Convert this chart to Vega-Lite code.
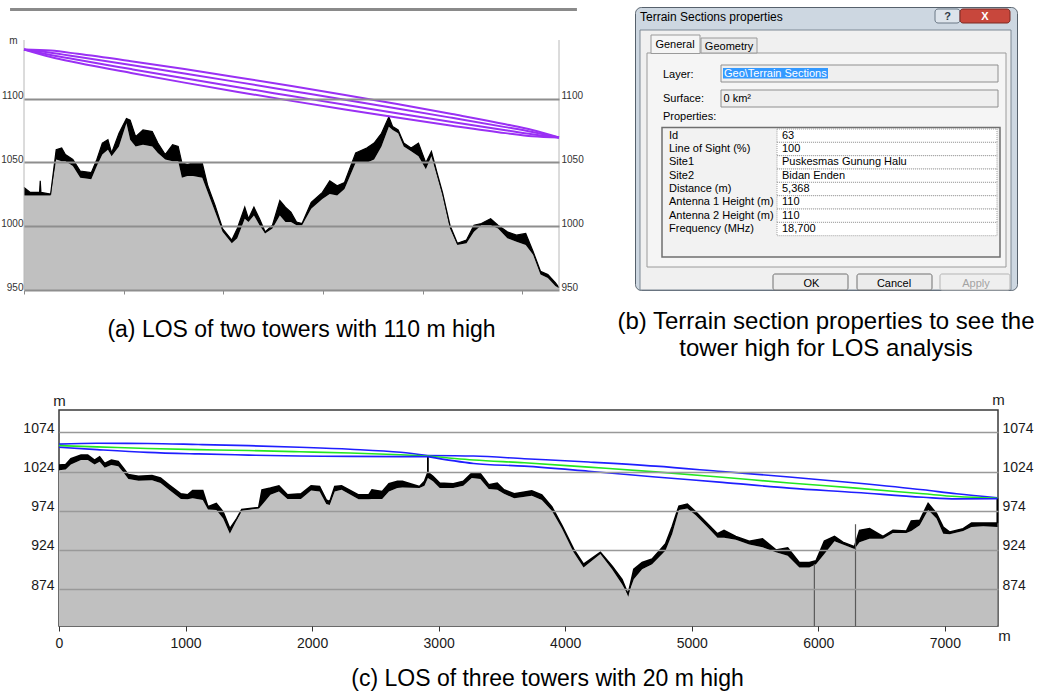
{
  "$schema": "https://vega.github.io/schema/vega-lite/v6.json",
  "background": "white",
  "padding": {"left": 0, "top": 6, "right": 0, "bottom": 0},
  "bounds": "flush",
  "spacing": 403,
  "config": {
    "view": {"stroke": null},
    "font": "Liberation Sans",
    "title": {"font": "Liberation Sans", "fontWeight": "normal", "color": "#000000", "fontSize": 23}
  },
  "datasets": {
    "terrainA": [
      {"d": 0, "top": 1030.4, "ground": 1024.0}, {"d": 63, "top": 1026.5, "ground": 1024.0},
      {"d": 137, "top": 1026.5, "ground": 1024.0}, {"d": 156, "top": 1026.5, "ground": 1024.0},
      {"d": 163, "top": 1035.6, "ground": 1024.0}, {"d": 170, "top": 1026.5, "ground": 1024.0},
      {"d": 267, "top": 1025.2, "ground": 1024.0}, {"d": 323, "top": 1060.0, "ground": 1052.3},
      {"d": 378, "top": 1061.3, "ground": 1051.0}, {"d": 415, "top": 1056.2, "ground": 1051.0},
      {"d": 490, "top": 1052.3, "ground": 1047.2}, {"d": 564, "top": 1043.3, "ground": 1038.1},
      {"d": 675, "top": 1042.0, "ground": 1036.8}, {"d": 731, "top": 1052.3, "ground": 1047.2},
      {"d": 786, "top": 1065.2, "ground": 1056.2}, {"d": 842, "top": 1067.8, "ground": 1060.0},
      {"d": 879, "top": 1057.5, "ground": 1054.9}, {"d": 953, "top": 1072.9, "ground": 1062.6},
      {"d": 1028, "top": 1084.5, "ground": 1080.7}, {"d": 1065, "top": 1083.2, "ground": 1067.8},
      {"d": 1120, "top": 1070.3, "ground": 1062.6}, {"d": 1194, "top": 1075.5, "ground": 1063.9},
      {"d": 1287, "top": 1074.2, "ground": 1062.6}, {"d": 1343, "top": 1065.2, "ground": 1057.5},
      {"d": 1417, "top": 1056.2, "ground": 1052.3}, {"d": 1491, "top": 1063.9, "ground": 1051.0},
      {"d": 1547, "top": 1062.6, "ground": 1051.0}, {"d": 1584, "top": 1049.7, "ground": 1038.1},
      {"d": 1640, "top": 1048.4, "ground": 1039.4}, {"d": 1695, "top": 1049.7, "ground": 1039.4},
      {"d": 1788, "top": 1049.7, "ground": 1038.1}, {"d": 1844, "top": 1031.7, "ground": 1026.5},
      {"d": 1918, "top": 1016.2, "ground": 1011.1}, {"d": 1992, "top": 998.2, "ground": 995.6},
      {"d": 2085, "top": 989.2, "ground": 986.6}, {"d": 2140, "top": 998.2, "ground": 990.5},
      {"d": 2215, "top": 1014.9, "ground": 1005.9}, {"d": 2252, "top": 1005.9, "ground": 1003.3},
      {"d": 2307, "top": 1014.9, "ground": 1008.5}, {"d": 2363, "top": 1005.9, "ground": 1000.8},
      {"d": 2419, "top": 995.6, "ground": 994.3}, {"d": 2493, "top": 1000.8, "ground": 998.2},
      {"d": 2567, "top": 1020.1, "ground": 1008.5}, {"d": 2623, "top": 1014.9, "ground": 1003.3},
      {"d": 2678, "top": 1011.1, "ground": 1003.3}, {"d": 2734, "top": 1003.3, "ground": 1000.8},
      {"d": 2790, "top": 1002.1, "ground": 1000.8}, {"d": 2882, "top": 1018.8, "ground": 1013.7},
      {"d": 2994, "top": 1026.5, "ground": 1021.4}, {"d": 3068, "top": 1035.6, "ground": 1025.2},
      {"d": 3142, "top": 1031.7, "ground": 1024.0}, {"d": 3216, "top": 1034.3, "ground": 1029.1},
      {"d": 3328, "top": 1057.5, "ground": 1049.7}, {"d": 3439, "top": 1061.3, "ground": 1049.7},
      {"d": 3513, "top": 1065.2, "ground": 1052.3}, {"d": 3587, "top": 1072.9, "ground": 1062.6},
      {"d": 3661, "top": 1085.8, "ground": 1078.1}, {"d": 3699, "top": 1078.1, "ground": 1075.5},
      {"d": 3754, "top": 1075.5, "ground": 1072.9}, {"d": 3810, "top": 1065.2, "ground": 1062.6},
      {"d": 3884, "top": 1061.3, "ground": 1058.7}, {"d": 3958, "top": 1065.2, "ground": 1054.9},
      {"d": 4032, "top": 1049.7, "ground": 1044.6}, {"d": 4088, "top": 1058.7, "ground": 1054.9},
      {"d": 4144, "top": 1042.0, "ground": 1039.4}, {"d": 4199, "top": 1026.5, "ground": 1024.0},
      {"d": 4274, "top": 1000.8, "ground": 998.2}, {"d": 4348, "top": 986.6, "ground": 985.3},
      {"d": 4440, "top": 989.2, "ground": 986.6}, {"d": 4515, "top": 1000.8, "ground": 995.6},
      {"d": 4589, "top": 1002.1, "ground": 1000.8}, {"d": 4682, "top": 1005.9, "ground": 1000.8},
      {"d": 4756, "top": 1000.8, "ground": 998.2}, {"d": 4849, "top": 995.6, "ground": 990.5},
      {"d": 4941, "top": 993.0, "ground": 987.9}, {"d": 5034, "top": 994.3, "ground": 985.3},
      {"d": 5108, "top": 980.2, "ground": 977.6}, {"d": 5182, "top": 964.7, "ground": 962.1},
      {"d": 5256, "top": 962.1, "ground": 959.5}, {"d": 5331, "top": 955.7, "ground": 953.1},
      {"d": 5368, "top": 951.8, "ground": 951.3}
    ],
    "losA": [
      {"path": "upper", "d": 0, "h": 1138.6}, {"path": "upper", "d": 268, "h": 1137.7}, {"path": "upper", "d": 537, "h": 1135.2},
      {"path": "upper", "d": 1074, "h": 1129.4}, {"path": "upper", "d": 1610, "h": 1123.2}, {"path": "upper", "d": 2147, "h": 1116.7},
      {"path": "upper", "d": 2684, "h": 1109.9}, {"path": "upper", "d": 3221, "h": 1102.9}, {"path": "upper", "d": 3758, "h": 1095.6},
      {"path": "upper", "d": 4294, "h": 1088.0}, {"path": "upper", "d": 4831, "h": 1080.0}, {"path": "upper", "d": 5100, "h": 1075.5},
      {"path": "upper", "d": 5368, "h": 1069.6},
      {"path": "inner upper", "d": 0, "h": 1138.6}, {"path": "inner upper", "d": 268, "h": 1136.1}, {"path": "inner upper", "d": 537, "h": 1132.9},
      {"path": "inner upper", "d": 1074, "h": 1126.4}, {"path": "inner upper", "d": 1610, "h": 1119.8}, {"path": "inner upper", "d": 2147, "h": 1113.0},
      {"path": "inner upper", "d": 2684, "h": 1106.1}, {"path": "inner upper", "d": 3221, "h": 1099.2}, {"path": "inner upper", "d": 3758, "h": 1092.2},
      {"path": "inner upper", "d": 4294, "h": 1085.0}, {"path": "inner upper", "d": 4831, "h": 1077.7}, {"path": "inner upper", "d": 5100, "h": 1073.9},
      {"path": "inner upper", "d": 5368, "h": 1069.6},
      {"path": "inner lower", "d": 0, "h": 1138.6}, {"path": "inner lower", "d": 268, "h": 1134.3}, {"path": "inner lower", "d": 537, "h": 1130.5},
      {"path": "inner lower", "d": 1074, "h": 1123.2}, {"path": "inner lower", "d": 1610, "h": 1116.0}, {"path": "inner lower", "d": 2147, "h": 1109.0},
      {"path": "inner lower", "d": 2684, "h": 1102.1}, {"path": "inner lower", "d": 3221, "h": 1095.2}, {"path": "inner lower", "d": 3758, "h": 1088.4},
      {"path": "inner lower", "d": 4294, "h": 1081.8}, {"path": "inner lower", "d": 4831, "h": 1075.3}, {"path": "inner lower", "d": 5100, "h": 1072.1},
      {"path": "inner lower", "d": 5368, "h": 1069.6},
      {"path": "lower", "d": 0, "h": 1138.6}, {"path": "lower", "d": 268, "h": 1132.7}, {"path": "lower", "d": 537, "h": 1128.2},
      {"path": "lower", "d": 1074, "h": 1120.2}, {"path": "lower", "d": 1610, "h": 1112.6}, {"path": "lower", "d": 2147, "h": 1105.3},
      {"path": "lower", "d": 2684, "h": 1098.3}, {"path": "lower", "d": 3221, "h": 1091.5}, {"path": "lower", "d": 3758, "h": 1085.0},
      {"path": "lower", "d": 4294, "h": 1078.8}, {"path": "lower", "d": 4831, "h": 1073.0}, {"path": "lower", "d": 5100, "h": 1070.5},
      {"path": "lower", "d": 5368, "h": 1069.6}
    ],
    "endsA": [{"d": 0}, {"d": 5368}],
    "props": [
      {"property": "Id", "value": "63"},
      {"property": "Line of Sight (%)", "value": "100"},
      {"property": "Site1", "value": "Puskesmas Gunung Halu"},
      {"property": "Site2", "value": "Bidan Enden"},
      {"property": "Distance (m)", "value": "5,368"},
      {"property": "Antenna 1 Height (m)", "value": "110"},
      {"property": "Antenna 2 Height (m)", "value": "110"},
      {"property": "Frequency (MHz)", "value": "18,700"}
    ],
    "terrainC": [
      {"d": 0, "top": 1032.2, "ground": 1025.7}, {"d": 53, "top": 1033.1, "ground": 1026.6},
      {"d": 94, "top": 1040.4, "ground": 1033.1}, {"d": 174, "top": 1045.1, "ground": 1038.7},
      {"d": 227, "top": 1045.1, "ground": 1038.7}, {"d": 281, "top": 1038.7, "ground": 1033.1},
      {"d": 321, "top": 1043.0, "ground": 1036.5}, {"d": 361, "top": 1034.3, "ground": 1028.7},
      {"d": 414, "top": 1038.7, "ground": 1032.2}, {"d": 468, "top": 1036.9, "ground": 1030.9},
      {"d": 508, "top": 1028.7, "ground": 1023.1}, {"d": 548, "top": 1020.1, "ground": 1014.5},
      {"d": 628, "top": 1018.0, "ground": 1012.4}, {"d": 735, "top": 1018.8, "ground": 1012.8},
      {"d": 802, "top": 1015.8, "ground": 1009.4}, {"d": 869, "top": 1007.2, "ground": 1000.7},
      {"d": 963, "top": 995.6, "ground": 989.1}, {"d": 1016, "top": 994.3, "ground": 988.7},
      {"d": 1056, "top": 999.9, "ground": 989.9}, {"d": 1136, "top": 999.9, "ground": 987.8},
      {"d": 1177, "top": 979.2, "ground": 975.7}, {"d": 1243, "top": 983.5, "ground": 974.9},
      {"d": 1297, "top": 972.7, "ground": 964.1}, {"d": 1350, "top": 951.2, "ground": 944.7},
      {"d": 1404, "top": 964.0, "ground": 962.0}, {"d": 1444, "top": 975.7, "ground": 974.0},
      {"d": 1578, "top": 978.3, "ground": 977.0}, {"d": 1604, "top": 1000.7, "ground": 981.3},
      {"d": 1671, "top": 1002.9, "ground": 994.3}, {"d": 1738, "top": 1005.9, "ground": 998.6},
      {"d": 1805, "top": 994.3, "ground": 989.1}, {"d": 1912, "top": 995.6, "ground": 989.1},
      {"d": 1992, "top": 1005.9, "ground": 999.9}, {"d": 2059, "top": 1005.0, "ground": 998.6},
      {"d": 2112, "top": 987.8, "ground": 982.6}, {"d": 2139, "top": 985.6, "ground": 981.3},
      {"d": 2179, "top": 1005.0, "ground": 998.6}, {"d": 2233, "top": 1005.9, "ground": 1000.7},
      {"d": 2367, "top": 994.3, "ground": 988.7}, {"d": 2447, "top": 994.3, "ground": 988.7},
      {"d": 2473, "top": 1000.7, "ground": 989.1}, {"d": 2554, "top": 998.6, "ground": 989.1},
      {"d": 2607, "top": 1008.5, "ground": 998.6}, {"d": 2674, "top": 1011.5, "ground": 1002.9},
      {"d": 2714, "top": 1011.5, "ground": 1003.8}, {"d": 2848, "top": 1005.0, "ground": 1002.9},
      {"d": 2888, "top": 1011.5, "ground": 1005.9}, {"d": 2915, "top": 1023.1, "ground": 1015.8},
      {"d": 2955, "top": 1018.0, "ground": 1011.5}, {"d": 3008, "top": 1009.4, "ground": 1002.9},
      {"d": 3115, "top": 1008.5, "ground": 1002.9}, {"d": 3195, "top": 1011.5, "ground": 1005.9},
      {"d": 3262, "top": 1022.2, "ground": 1015.8}, {"d": 3329, "top": 1021.4, "ground": 1014.5},
      {"d": 3396, "top": 1007.2, "ground": 1001.6}, {"d": 3463, "top": 1009.4, "ground": 1000.7},
      {"d": 3516, "top": 1000.7, "ground": 995.6}, {"d": 3597, "top": 995.6, "ground": 989.9},
      {"d": 3656, "top": 997.3, "ground": 991.2}, {"d": 3736, "top": 999.4, "ground": 993.0},
      {"d": 3815, "top": 994.3, "ground": 987.8}, {"d": 3894, "top": 979.2, "ground": 974.0},
      {"d": 3974, "top": 955.5, "ground": 951.2}, {"d": 4066, "top": 925.3, "ground": 921.0},
      {"d": 4145, "top": 905.9, "ground": 901.6}, {"d": 4278, "top": 921.0, "ground": 918.8},
      {"d": 4370, "top": 903.7, "ground": 899.4}, {"d": 4449, "top": 886.5, "ground": 880.1},
      {"d": 4497, "top": 867.5, "ground": 866.5}, {"d": 4542, "top": 899.4, "ground": 886.5},
      {"d": 4608, "top": 908.1, "ground": 899.4}, {"d": 4687, "top": 912.4, "ground": 905.9},
      {"d": 4793, "top": 931.8, "ground": 923.2}, {"d": 4846, "top": 954.2, "ground": 944.7},
      {"d": 4899, "top": 980.0, "ground": 974.9}, {"d": 4965, "top": 982.6, "ground": 977.0},
      {"d": 5031, "top": 972.7, "ground": 968.4}, {"d": 5123, "top": 957.6, "ground": 953.3},
      {"d": 5203, "top": 944.7, "ground": 939.5}, {"d": 5255, "top": 949.0, "ground": 939.5},
      {"d": 5348, "top": 941.2, "ground": 936.9}, {"d": 5454, "top": 935.2, "ground": 930.9},
      {"d": 5559, "top": 938.2, "ground": 927.5}, {"d": 5665, "top": 924.0, "ground": 921.0},
      {"d": 5758, "top": 926.6, "ground": 916.7}, {"d": 5850, "top": 908.1, "ground": 901.6},
      {"d": 5929, "top": 908.1, "ground": 901.6}, {"d": 5982, "top": 910.2, "ground": 905.9},
      {"d": 6048, "top": 935.2, "ground": 918.8}, {"d": 6128, "top": 941.2, "ground": 935.2},
      {"d": 6194, "top": 933.9, "ground": 930.9}, {"d": 6286, "top": 928.3, "ground": 925.3},
      {"d": 6326, "top": 949.0, "ground": 933.9}, {"d": 6405, "top": 951.2, "ground": 938.2},
      {"d": 6511, "top": 941.2, "ground": 938.2}, {"d": 6590, "top": 949.0, "ground": 945.6},
      {"d": 6696, "top": 948.2, "ground": 945.6}, {"d": 6735, "top": 961.1, "ground": 948.2},
      {"d": 6802, "top": 961.9, "ground": 955.5}, {"d": 6868, "top": 983.5, "ground": 974.9},
      {"d": 6934, "top": 970.5, "ground": 964.1}, {"d": 6987, "top": 953.3, "ground": 944.7},
      {"d": 7039, "top": 946.9, "ground": 943.9}, {"d": 7145, "top": 951.2, "ground": 948.2},
      {"d": 7211, "top": 958.5, "ground": 953.3}, {"d": 7303, "top": 958.5, "ground": 954.2},
      {"d": 7415, "top": 958.5, "ground": 953.3}
    ],
    "losC": [
      {"path": "upper 1", "kind": "fresnel", "d": 0, "h": 1059.0}, {"path": "upper 1", "kind": "fresnel", "d": 300, "h": 1060.0},
      {"path": "upper 1", "kind": "fresnel", "d": 700, "h": 1059.8}, {"path": "upper 1", "kind": "fresnel", "d": 1100, "h": 1058.5},
      {"path": "upper 1", "kind": "fresnel", "d": 1500, "h": 1057.0}, {"path": "upper 1", "kind": "fresnel", "d": 1900, "h": 1055.0},
      {"path": "upper 1", "kind": "fresnel", "d": 2300, "h": 1052.5}, {"path": "upper 1", "kind": "fresnel", "d": 2700, "h": 1048.6},
      {"path": "upper 1", "kind": "fresnel", "d": 2915, "h": 1044.5},
      {"path": "los 1", "kind": "los", "d": 0, "h": 1057.0}, {"path": "los 1", "kind": "los", "d": 300, "h": 1055.5},
      {"path": "los 1", "kind": "los", "d": 700, "h": 1053.4}, {"path": "los 1", "kind": "los", "d": 1100, "h": 1052.0},
      {"path": "los 1", "kind": "los", "d": 1500, "h": 1050.8}, {"path": "los 1", "kind": "los", "d": 1900, "h": 1049.2},
      {"path": "los 1", "kind": "los", "d": 2300, "h": 1047.6}, {"path": "los 1", "kind": "los", "d": 2700, "h": 1045.4},
      {"path": "los 1", "kind": "los", "d": 2915, "h": 1043.8},
      {"path": "lower 1", "kind": "fresnel", "d": 0, "h": 1055.0}, {"path": "lower 1", "kind": "fresnel", "d": 300, "h": 1052.0},
      {"path": "lower 1", "kind": "fresnel", "d": 700, "h": 1048.5}, {"path": "lower 1", "kind": "fresnel", "d": 1100, "h": 1046.5},
      {"path": "lower 1", "kind": "fresnel", "d": 1500, "h": 1045.0}, {"path": "lower 1", "kind": "fresnel", "d": 1900, "h": 1043.8},
      {"path": "lower 1", "kind": "fresnel", "d": 2300, "h": 1043.3}, {"path": "lower 1", "kind": "fresnel", "d": 2700, "h": 1043.0},
      {"path": "lower 1", "kind": "fresnel", "d": 2915, "h": 1043.0},
      {"path": "upper 2", "kind": "fresnel", "d": 2915, "h": 1044.5}, {"path": "upper 2", "kind": "fresnel", "d": 3276, "h": 1043.8},
      {"path": "upper 2", "kind": "fresnel", "d": 3677, "h": 1040.4}, {"path": "upper 2", "kind": "fresnel", "d": 4185, "h": 1036.1},
      {"path": "upper 2", "kind": "fresnel", "d": 4714, "h": 1030.9}, {"path": "upper 2", "kind": "fresnel", "d": 5242, "h": 1024.0},
      {"path": "upper 2", "kind": "fresnel", "d": 5771, "h": 1017.1}, {"path": "upper 2", "kind": "fresnel", "d": 6300, "h": 1009.4},
      {"path": "upper 2", "kind": "fresnel", "d": 6828, "h": 1000.7}, {"path": "upper 2", "kind": "fresnel", "d": 7092, "h": 995.6},
      {"path": "upper 2", "kind": "fresnel", "d": 7415, "h": 990.6},
      {"path": "los 2", "kind": "los", "d": 2915, "h": 1043.8}, {"path": "los 2", "kind": "los", "d": 3276, "h": 1038.7},
      {"path": "los 2", "kind": "los", "d": 3677, "h": 1035.2}, {"path": "los 2", "kind": "los", "d": 4185, "h": 1029.6},
      {"path": "los 2", "kind": "los", "d": 4714, "h": 1023.6}, {"path": "los 2", "kind": "los", "d": 5242, "h": 1016.7},
      {"path": "los 2", "kind": "los", "d": 5771, "h": 1009.4}, {"path": "los 2", "kind": "los", "d": 6300, "h": 1002.9},
      {"path": "los 2", "kind": "los", "d": 6828, "h": 995.6}, {"path": "los 2", "kind": "los", "d": 7092, "h": 992.1},
      {"path": "los 2", "kind": "los", "d": 7415, "h": 990.0},
      {"path": "lower 2", "kind": "fresnel", "d": 2915, "h": 1043.0}, {"path": "lower 2", "kind": "fresnel", "d": 3276, "h": 1034.3},
      {"path": "lower 2", "kind": "fresnel", "d": 3677, "h": 1030.9}, {"path": "lower 2", "kind": "fresnel", "d": 4185, "h": 1024.4},
      {"path": "lower 2", "kind": "fresnel", "d": 4714, "h": 1017.1}, {"path": "lower 2", "kind": "fresnel", "d": 5242, "h": 1010.2},
      {"path": "lower 2", "kind": "fresnel", "d": 5771, "h": 1002.9}, {"path": "lower 2", "kind": "fresnel", "d": 6300, "h": 997.3},
      {"path": "lower 2", "kind": "fresnel", "d": 6828, "h": 991.2}, {"path": "lower 2", "kind": "fresnel", "d": 7092, "h": 989.1},
      {"path": "lower 2", "kind": "fresnel", "d": 7415, "h": 989.4}
    ],
    "towersC": [
      {"d": 2915, "base": 1023.1, "tip": 1043.8},
      {"d": 7415, "base": 958.5, "tip": 990.0}
    ],
    "stakesC": [
      {"d": 5969, "base": 827, "tip": 906.0},
      {"d": 6294, "base": 827, "tip": 956.8}
    ]
  },
  "vconcat": [
    {
      "hconcat": [
        {
          "width": 535,
          "height": 283,
          "title": {"text": "(a) LOS of two towers with 110 m high", "orient": "bottom", "offset": 24, "dx": 10},
          "layer": [
            {
              "data": {"name": "terrainA"},
              "mark": {"type": "area", "color": "#c0c0c0"},
              "encoding": {
                "x": {"field": "d", "type": "quantitative", "scale": {"domain": [0, 5368], "nice": false, "zero": false},
                  "axis": {"orient": "bottom", "values": [0, 1000, 2000, 3000, 4000, 5000], "labels": false, "ticks": true, "tickSize": 4, "tickColor": "#8a8a8a", "domain": false, "grid": false, "title": null}},
                "y": {"field": "ground", "type": "quantitative", "scale": {"domain": [950, 1171.9], "nice": false, "zero": false},
                  "axis": {"orient": "left", "values": [950, 1000, 1050, 1100], "format": "d", "grid": true, "gridColor": "#8e8e8e", "gridWidth": 2, "domain": false, "ticks": false, "zindex": 1,
                    "labelFontSize": 10, "labelColor": "#333333", "labelPadding": 1, "labelBaseline": "alphabetic", "labelFlush": false,
                    "title": "m", "titleAngle": 0, "titleX": -11, "titleY": 36, "titleAlign": "center", "titleBaseline": "alphabetic", "titleFontSize": 10, "titleFontWeight": "normal", "titleColor": "#333333"}},
                "y2": {"datum": 950}
              }
            },
            {
              "data": {"name": "terrainA"},
              "mark": {"type": "area", "color": "#000000"},
              "encoding": {
                "x": {"field": "d", "type": "quantitative", "scale": {"domain": [0, 5368], "nice": false, "zero": false}, "axis": null},
                "y": {"field": "top", "type": "quantitative", "scale": {"domain": [950, 1171.9], "nice": false, "zero": false},
                  "axis": {"orient": "right", "values": [950, 1000, 1050, 1100], "format": "d", "grid": false, "domain": false, "ticks": false,
                    "labelFontSize": 10, "labelColor": "#333333", "labelPadding": 2, "labelBaseline": "alphabetic", "labelFlush": false, "title": null}},
                "y2": {"field": "ground"}
              }
            },
            {
              "data": {"name": "terrainA"},
              "mark": {"type": "line", "color": "#000000", "strokeWidth": 1.2},
              "encoding": {
                "x": {"field": "d", "type": "quantitative", "scale": {"domain": [0, 5368], "nice": false, "zero": false}, "axis": null},
                "y": {"field": "top", "type": "quantitative", "scale": {"domain": [950, 1171.9], "nice": false, "zero": false}, "axis": null}
              }
            },
            {
              "data": {"name": "endsA"},
              "mark": {"type": "rule", "color": "#b8b8b8", "strokeWidth": 1},
              "encoding": {
                "x": {"field": "d", "type": "quantitative", "scale": {"domain": [0, 5368], "nice": false, "zero": false}, "axis": null},
                "y": {"datum": 950, "type": "quantitative", "scale": {"domain": [950, 1171.9], "nice": false, "zero": false}, "axis": null},
                "y2": {"datum": 1146}
              }
            },
            {
              "data": {"name": "losA"},
              "mark": {"type": "line", "color": "#9a30f4", "strokeWidth": 2, "interpolate": "monotone"},
              "encoding": {
                "x": {"field": "d", "type": "quantitative", "scale": {"domain": [0, 5368], "nice": false, "zero": false}, "axis": null},
                "y": {"field": "h", "type": "quantitative", "scale": {"domain": [950, 1171.9], "nice": false, "zero": false}, "axis": null},
                "detail": {"field": "path"}
              }
            },
            {
              "data": {"values": [{}]},
              "mark": {"type": "rule", "color": "#8a8a8a", "strokeWidth": 3},
              "encoding": {
                "x": {"datum": -140, "type": "quantitative", "scale": {"domain": [0, 5368], "nice": false, "zero": false}, "axis": null},
                "x2": {"datum": 5548},
                "y": {"datum": 1170, "type": "quantitative", "scale": {"domain": [950, 1171.9], "nice": false, "zero": false}, "axis": null}
              }
            }
          ],
          "resolve": {"axis": {"x": "independent", "y": "independent"}}
        },
        {
          "width": 382,
          "height": 283,
          "view": {"fill": "#cdd7e1", "stroke": "#56616c", "strokeWidth": 1, "cornerRadius": 6},
          "title": {"text": ["(b) Terrain section properties to see the", "tower high for LOS analysis"], "orient": "bottom", "offset": 19, "lineHeight": 27, "fontSize": 24},
          "layer": [
            {
              "data": {"values": [{}]},
              "encoding": {
                "x": {"type": "quantitative", "scale": {"domain": [0, 382], "nice": false, "zero": false}, "axis": null},
                "y": {"type": "quantitative", "scale": {"domain": [0, 283], "nice": false, "zero": false, "reverse": true}, "axis": null}
              },
              "layer": [
                {"mark": {"type": "rect", "fill": "#dde4eb", "stroke": "#6b7886", "cornerRadius": 3},
                  "encoding": {"x": {"datum": 300}, "x2": {"datum": 325}, "y": {"datum": 2}, "y2": {"datum": 16}}},
                {"mark": {"type": "rect", "fill": "#c8473c", "stroke": "#7d2a22", "cornerRadius": 3},
                  "encoding": {"x": {"datum": 325}, "x2": {"datum": 375}, "y": {"datum": 2}, "y2": {"datum": 16}}},
                {"mark": {"type": "text", "text": "?", "fontSize": 11, "fontWeight": "bold", "color": "#2e3a46", "baseline": "middle", "align": "center"},
                  "encoding": {"x": {"datum": 312.5}, "y": {"datum": 9.5}}},
                {"mark": {"type": "text", "text": "X", "fontSize": 11, "fontWeight": "bold", "color": "#ffffff", "baseline": "middle", "align": "center"},
                  "encoding": {"x": {"datum": 350}, "y": {"datum": 9.5}}},
                {"mark": {"type": "text", "text": "Terrain Sections properties", "fontSize": 12, "color": "#000000", "baseline": "middle", "align": "left"},
                  "encoding": {"x": {"datum": 5}, "y": {"datum": 10}}},
                {"mark": {"type": "rect", "fill": "#f0f0f0", "stroke": "#7c8894"},
                  "encoding": {"x": {"datum": 5}, "x2": {"datum": 376}, "y": {"datum": 23}, "y2": {"datum": 283}}},
                {"mark": {"type": "rect", "fill": "#f5f5f5", "stroke": "#9a9a9a"},
                  "encoding": {"x": {"datum": 12}, "x2": {"datum": 371}, "y": {"datum": 46}, "y2": {"datum": 260}}},
                {"mark": {"type": "rect", "fill": "#e9e9e9", "stroke": "#9a9a9a"},
                  "encoding": {"x": {"datum": 66}, "x2": {"datum": 122}, "y": {"datum": 31}, "y2": {"datum": 46}}},
                {"mark": {"type": "rect", "fill": "#f5f5f5", "stroke": "#9a9a9a"},
                  "encoding": {"x": {"datum": 16}, "x2": {"datum": 65}, "y": {"datum": 28}, "y2": {"datum": 46.5}}},
                {"mark": {"type": "text", "text": "General", "fontSize": 11, "color": "#000000", "baseline": "middle", "align": "center"},
                  "encoding": {"x": {"datum": 40}, "y": {"datum": 38}}},
                {"mark": {"type": "text", "text": "Geometry", "fontSize": 11, "color": "#000000", "baseline": "middle", "align": "center"},
                  "encoding": {"x": {"datum": 94}, "y": {"datum": 39.5}}},
                {"mark": {"type": "text", "text": "Layer:", "fontSize": 11, "color": "#000000", "baseline": "middle", "align": "left"},
                  "encoding": {"x": {"datum": 28}, "y": {"datum": 68}}},
                {"mark": {"type": "rect", "fill": "#efefef", "stroke": "#8f8f8f"},
                  "encoding": {"x": {"datum": 86}, "x2": {"datum": 363}, "y": {"datum": 58}, "y2": {"datum": 75}}},
                {"mark": {"type": "rect", "fill": "#3399ff"},
                  "encoding": {"x": {"datum": 88}, "x2": {"datum": 193}, "y": {"datum": 61}, "y2": {"datum": 71.5}}},
                {"mark": {"type": "text", "text": "Geo\\Terrain Sections", "fontSize": 11, "color": "#ffffff", "baseline": "middle", "align": "left"},
                  "encoding": {"x": {"datum": 89}, "y": {"datum": 66.5}}},
                {"mark": {"type": "text", "text": "Surface:", "fontSize": 11, "color": "#000000", "baseline": "middle", "align": "left"},
                  "encoding": {"x": {"datum": 28}, "y": {"datum": 91.5}}},
                {"mark": {"type": "rect", "fill": "#efefef", "stroke": "#8f8f8f"},
                  "encoding": {"x": {"datum": 86}, "x2": {"datum": 363}, "y": {"datum": 83}, "y2": {"datum": 100}}},
                {"mark": {"type": "text", "text": "0 km²", "fontSize": 11, "color": "#000000", "baseline": "middle", "align": "left"},
                  "encoding": {"x": {"datum": 88.5}, "y": {"datum": 91.5}}},
                {"mark": {"type": "text", "text": "Properties:", "fontSize": 11, "color": "#000000", "baseline": "middle", "align": "left"},
                  "encoding": {"x": {"datum": 28}, "y": {"datum": 110}}},
                {"mark": {"type": "rect", "fill": "#f2f2f2", "stroke": "#6f6f6f", "strokeWidth": 1.5},
                  "encoding": {"x": {"datum": 27}, "x2": {"datum": 365}, "y": {"datum": 120.5}, "y2": {"datum": 250}}},
                {"mark": {"type": "rect", "fill": "#ececec", "stroke": "#707070", "cornerRadius": 2},
                  "encoding": {"x": {"datum": 138}, "x2": {"datum": 213}, "y": {"datum": 267}, "y2": {"datum": 283}}},
                {"mark": {"type": "rect", "fill": "#ececec", "stroke": "#707070", "cornerRadius": 2},
                  "encoding": {"x": {"datum": 222}, "x2": {"datum": 297}, "y": {"datum": 267}, "y2": {"datum": 283}}},
                {"mark": {"type": "rect", "fill": "#efefef", "stroke": "#b5b5b5", "cornerRadius": 2},
                  "encoding": {"x": {"datum": 305}, "x2": {"datum": 375}, "y": {"datum": 267}, "y2": {"datum": 283}}},
                {"mark": {"type": "text", "text": "OK", "fontSize": 11, "color": "#000000", "baseline": "middle", "align": "center"},
                  "encoding": {"x": {"datum": 176.5}, "y": {"datum": 276.5}}},
                {"mark": {"type": "text", "text": "Cancel", "fontSize": 11, "color": "#000000", "baseline": "middle", "align": "center"},
                  "encoding": {"x": {"datum": 259}, "y": {"datum": 276.5}}},
                {"mark": {"type": "text", "text": "Apply", "fontSize": 11, "color": "#a3a3a3", "baseline": "middle", "align": "center"},
                  "encoding": {"x": {"datum": 341}, "y": {"datum": 276.5}}}
              ]
            },
            {
              "data": {"name": "props"},
              "encoding": {
                "y": {"field": "property", "type": "nominal", "sort": null, "scale": {"type": "band", "range": [122, 228.7], "paddingInner": 0, "paddingOuter": 0}, "axis": null}
              },
              "layer": [
                {"mark": {"type": "rect", "fill": "#ffffff", "stroke": "#a0a0a0", "strokeDash": [1, 1], "strokeWidth": 1},
                  "encoding": {"x": {"datum": 142, "type": "quantitative", "scale": {"domain": [0, 382], "nice": false, "zero": false}, "axis": null}, "x2": {"datum": 362}}},
                {"mark": {"type": "text", "fontSize": 11, "color": "#000000", "baseline": "middle", "align": "left"},
                  "encoding": {"x": {"datum": 34, "type": "quantitative", "scale": {"domain": [0, 382], "nice": false, "zero": false}, "axis": null}, "text": {"field": "property"}}},
                {"mark": {"type": "text", "fontSize": 11, "color": "#000000", "baseline": "middle", "align": "left"},
                  "encoding": {"x": {"datum": 147, "type": "quantitative", "scale": {"domain": [0, 382], "nice": false, "zero": false}, "axis": null}, "text": {"field": "value"}}}
              ]
            }
          ],
          "resolve": {"scale": {"y": "independent"}}
        }
      ],
      "spacing": 76,
      "bounds": "flush"
    },
    {
      "hconcat": [
        {"width": 1, "height": 1, "data": {"values": []}, "mark": "point"},
        {
          "width": 939,
          "height": 216,
          "view": {"stroke": "#3a3a3a", "strokeWidth": 1.5},
          "title": {"text": "(c) LOS of three towers with 20 m high", "orient": "bottom", "offset": 18, "dx": 19},
          "layer": [
            {
              "data": {"name": "terrainC"},
              "mark": {"type": "area", "color": "#c0c0c0"},
              "encoding": {
                "x": {"field": "d", "type": "quantitative", "scale": {"domain": [0, 7420], "nice": false, "zero": false},
                  "axis": {"orient": "bottom", "values": [0, 1000, 2000, 3000, 4000, 5000, 6000, 7000], "format": "d", "grid": false, "domain": false, "ticks": true, "tickSize": 5, "tickColor": "#333333",
                    "labelFontSize": 14, "labelColor": "#1a1a1a", "labelPadding": 5, "labelFlush": false,
                    "title": "m", "titleX": 945, "titleY": 14, "titleAlign": "center", "titleBaseline": "alphabetic", "titleFontSize": 15, "titleFontWeight": "normal", "titleColor": "#1a1a1a"}},
                "y": {"field": "ground", "type": "quantitative", "scale": {"domain": [827, 1102.5], "nice": false, "zero": false},
                  "axis": {"orient": "left", "values": [874, 924, 974, 1024, 1074], "format": "d", "grid": true, "gridColor": "#999999", "gridWidth": 1.5, "domain": false, "ticks": false, "zindex": 1,
                    "labelFontSize": 14, "labelColor": "#1a1a1a", "labelPadding": 5, "labelBaseline": "alphabetic", "labelFlush": false,
                    "title": "m", "titleAngle": 0, "titleX": 0, "titleY": -5, "titleAlign": "center", "titleBaseline": "alphabetic", "titleFontSize": 15, "titleFontWeight": "normal", "titleColor": "#1a1a1a"}},
                "y2": {"datum": 827}
              }
            },
            {
              "data": {"name": "terrainC"},
              "mark": {"type": "area", "color": "#000000"},
              "encoding": {
                "x": {"field": "d", "type": "quantitative", "scale": {"domain": [0, 7420], "nice": false, "zero": false}, "axis": null},
                "y": {"field": "top", "type": "quantitative", "scale": {"domain": [827, 1102.5], "nice": false, "zero": false},
                  "axis": {"orient": "right", "values": [874, 924, 974, 1024, 1074], "format": "d", "grid": false, "domain": false, "ticks": false,
                    "labelFontSize": 14, "labelColor": "#1a1a1a", "labelPadding": 4, "labelBaseline": "alphabetic", "labelFlush": false,
                    "title": "m", "titleAngle": 0, "titleX": 0, "titleY": -6, "titleAlign": "center", "titleBaseline": "alphabetic", "titleFontSize": 15, "titleFontWeight": "normal", "titleColor": "#1a1a1a"}},
                "y2": {"field": "ground"}
              }
            },
            {
              "data": {"name": "terrainC"},
              "mark": {"type": "line", "color": "#000000", "strokeWidth": 1.5},
              "encoding": {
                "x": {"field": "d", "type": "quantitative", "scale": {"domain": [0, 7420], "nice": false, "zero": false}, "axis": null},
                "y": {"field": "top", "type": "quantitative", "scale": {"domain": [827, 1102.5], "nice": false, "zero": false}, "axis": null}
              }
            },
            {
              "data": {"name": "stakesC"},
              "mark": {"type": "rule", "color": "#5a5a5a", "strokeWidth": 1.2},
              "encoding": {
                "x": {"field": "d", "type": "quantitative", "scale": {"domain": [0, 7420], "nice": false, "zero": false}, "axis": null},
                "y": {"field": "base", "type": "quantitative", "scale": {"domain": [827, 1102.5], "nice": false, "zero": false}, "axis": null},
                "y2": {"field": "tip"}
              }
            },
            {
              "data": {"name": "towersC"},
              "mark": {"type": "rule", "color": "#000000", "strokeWidth": 1.8},
              "encoding": {
                "x": {"field": "d", "type": "quantitative", "scale": {"domain": [0, 7420], "nice": false, "zero": false}, "axis": null},
                "y": {"field": "base", "type": "quantitative", "scale": {"domain": [827, 1102.5], "nice": false, "zero": false}, "axis": null},
                "y2": {"field": "tip"}
              }
            },
            {
              "data": {"name": "losC"},
              "mark": {"type": "line", "strokeWidth": 1.6, "interpolate": "monotone"},
              "encoding": {
                "x": {"field": "d", "type": "quantitative", "scale": {"domain": [0, 7420], "nice": false, "zero": false}, "axis": null},
                "y": {"field": "h", "type": "quantitative", "scale": {"domain": [827, 1102.5], "nice": false, "zero": false}, "axis": null},
                "color": {"field": "kind", "type": "nominal", "scale": {"domain": ["fresnel", "los"], "range": ["#1f1fff", "#22e622"]}, "legend": null},
                "detail": {"field": "path"}
              }
            }
          ],
          "resolve": {"axis": {"x": "independent", "y": "independent"}}
        }
      ],
      "spacing": 34,
      "bounds": "flush"
    }
  ]
}
